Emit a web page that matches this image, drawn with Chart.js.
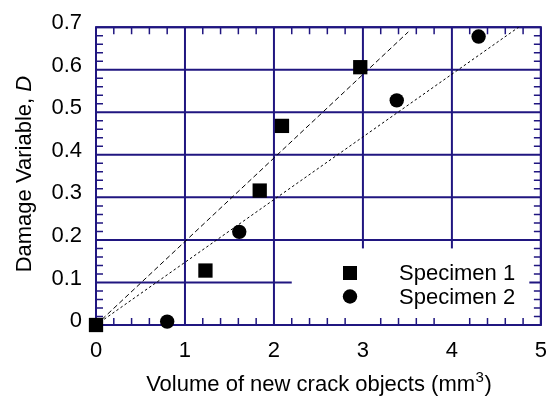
<!DOCTYPE html>
<html>
<head>
<meta charset="utf-8">
<script src="https://cdn.jsdelivr.net/npm/chart.js@4/dist/chart.umd.min.js"></script>
<style>
html,body{margin:0;padding:0;background:#fff;}
#wrap{width:560px;height:399px;}
</style>
</head>
<body>
<div id="wrap"><canvas id="c" width="560" height="399"></canvas></div>
<script>
// ---- data ----
const spec1X = [0, 1.23, 1.84, 2.09, 2.97];
const spec1Y = [0, 0.128, 0.316, 0.468, 0.606];
const spec2X = [0.80, 1.61, 3.38, 4.30];
const spec2Y = [0.008, 0.219, 0.528, 0.678];
const fit1X = [0, 3.51];
const fit1Y = [0, 0.689];
const fit2X = [0, 4.77];
const fit2Y = [0, 0.703];
const xTickLabels = ['0', '1', '2', '3', '4', '5'];
const yTickLabels = ['0', '0.1', '0.2', '0.3', '0.4', '0.5', '0.6', '0.7'];
const seriesNames = ['Specimen 1', 'Specimen 2'];
const xTitle = 'Volume of new crack objects (mm';
const xTitleSup = '3';
const xTitleEnd = ')';
const yTitle = 'Damage Variable, ';
const yTitleItalic = 'D';

const NAVY = 'rgb(32,22,128)';
const FONT = '"Liberation Sans", Arial, Helvetica, sans-serif';

const pts = (xs, ys) => xs.map((x, i) => ({x: x, y: ys[i]}));

const framePlugin = {
  id: 'frame',
  beforeDatasetsDraw(chart) {
    const {ctx, chartArea: a, scales: {x, y}} = chart;
    ctx.save();
    ctx.strokeStyle = NAVY;
    ctx.lineWidth = 2;
    // major grid
    for (let i = 0; i < xTickLabels.length; i++) {
      const px = x.getPixelForValue(i);
      ctx.beginPath(); ctx.moveTo(px, a.top); ctx.lineTo(px, a.bottom); ctx.stroke();
    }
    for (let i = 0; i < yTickLabels.length; i++) {
      const py = y.getPixelForValue(i * 0.1);
      ctx.beginPath(); ctx.moveTo(a.left, py); ctx.lineTo(a.right, py); ctx.stroke();
    }
    // legend box (white)
    const bx0 = x.getPixelForValue(2.2), bx1 = x.getPixelForValue(4.87);
    const by0 = y.getPixelForValue(0.18);
    ctx.fillStyle = '#fff';
    ctx.fillRect(bx0, by0, bx1 - bx0, a.bottom - by0);
    // minor ticks
    ctx.lineWidth = 1.5;
    const L = 7;
    for (let k = 1; k < 25; k++) {
      if (k % 5 === 0) continue;
      const px = x.getPixelForValue(k * 0.2);
      ctx.beginPath();
      ctx.moveTo(px, a.bottom); ctx.lineTo(px, a.bottom - L);
      ctx.moveTo(px, a.top); ctx.lineTo(px, a.top + L);
      ctx.stroke();
    }
    for (let k = 1; k < 35; k++) {
      if (k % 5 === 0) continue;
      const py = y.getPixelForValue(k * 0.02);
      ctx.beginPath();
      ctx.moveTo(a.left, py); ctx.lineTo(a.left + L, py);
      ctx.moveTo(a.right, py); ctx.lineTo(a.right - L, py);
      ctx.stroke();
    }
    // border
    ctx.lineWidth = 2;
    ctx.strokeRect(a.left, a.top, a.right - a.left, a.bottom - a.top);
    ctx.restore();
  },
  afterDraw(chart) {
    const {ctx, chartArea: a} = chart;
    ctx.save();
    ctx.fillStyle = '#000';
    // legend
    ctx.font = '22px ' + FONT;
    ctx.textBaseline = 'alphabetic';
    ctx.textAlign = 'left';
    const lx = 350, ly1 = 273, ly2 = 296.5;
    ctx.fillRect(lx - 7, ly1 - 7, 14, 14);
    ctx.beginPath(); ctx.arc(lx, ly2, 7.2, 0, Math.PI * 2); ctx.fill();
    ctx.fillText(seriesNames[0], 399, 280);
    ctx.fillText(seriesNames[1], 399, 303.5);
    // x title
    const cx = (a.left + a.right) / 2;
    const w1 = ctx.measureText(xTitle).width;
    ctx.font = '15px ' + FONT;
    const w2 = ctx.measureText(xTitleSup).width;
    ctx.font = '22px ' + FONT;
    const w3 = ctx.measureText(xTitleEnd).width;
    let sx = cx - (w1 + w2 + w3) / 2;
    const base = 391;
    ctx.fillText(xTitle, sx, base);
    ctx.font = '15px ' + FONT;
    ctx.fillText(xTitleSup, sx + w1 + 0.5, base - 9);
    ctx.font = '22px ' + FONT;
    ctx.fillText(xTitleEnd, sx + w1 + w2 + 1, base);
    // y title
    ctx.translate(31, (a.top + a.bottom) / 2 - 2);
    ctx.rotate(-Math.PI / 2);
    ctx.font = '22px ' + FONT;
    const t1 = ctx.measureText(yTitle).width;
    ctx.font = 'italic 22px ' + FONT;
    const t2 = ctx.measureText(yTitleItalic).width;
    const sy = -(t1 + t2) / 2;
    ctx.font = '22px ' + FONT;
    ctx.fillText(yTitle, sy, 0);
    ctx.font = 'italic 22px ' + FONT;
    ctx.fillText(yTitleItalic, sy + t1, 0);
    ctx.restore();
  }
};

new Chart(document.getElementById('c'), {
  type: 'scatter',
  data: {
    datasets: [
      {label: seriesNames[0], data: pts(spec1X, spec1Y), pointStyle: 'rect', pointRadius: 10.1,
       backgroundColor: '#000', borderColor: '#000', borderWidth: 0, clip: false, showLine: false},
      {label: seriesNames[1], data: pts(spec2X, spec2Y), pointStyle: 'circle', pointRadius: 7.2,
       backgroundColor: '#000', borderColor: '#000', borderWidth: 0, clip: false, showLine: false},
      {label: 'fit1', data: pts(fit1X, fit1Y), showLine: true, pointRadius: 0, borderColor: '#000',
       borderWidth: 1, borderDash: [5, 3], fill: false},
      {label: 'fit2', data: pts(fit2X, fit2Y), showLine: true, pointRadius: 0, borderColor: '#000',
       borderWidth: 1, borderDash: [2.5, 2.5], fill: false}
    ]
  },
  options: {
    responsive: false,
    animation: false,
    devicePixelRatio: 1,
    layout: {padding: {left: 0, right: 17, top: 25, bottom: 0}},
    plugins: {legend: {display: false}, tooltip: {enabled: false}},
    scales: {
      x: {
        type: 'linear', min: 0, max: 5,
        border: {display: false},
        grid: {display: false, drawTicks: false},
        ticks: {stepSize: 1, padding: 13, color: '#000', font: {family: FONT, size: 22},
                callback: (v) => xTickLabels[Math.round(v)], maxRotation: 0},
        afterFit: (s) => { s.height = 74; }
      },
      y: {
        type: 'linear', min: 0, max: 0.7,
        border: {display: false},
        grid: {display: false, drawTicks: false},
        ticks: {stepSize: 0.1, padding: 14, labelOffset: -4, color: '#000', font: {family: FONT, size: 22},
                callback: (v) => yTickLabels[Math.round(v * 10)]},
        afterFit: (s) => { s.width = 96; }
      }
    }
  },
  plugins: [framePlugin]
});
</script>
</body>
</html>
